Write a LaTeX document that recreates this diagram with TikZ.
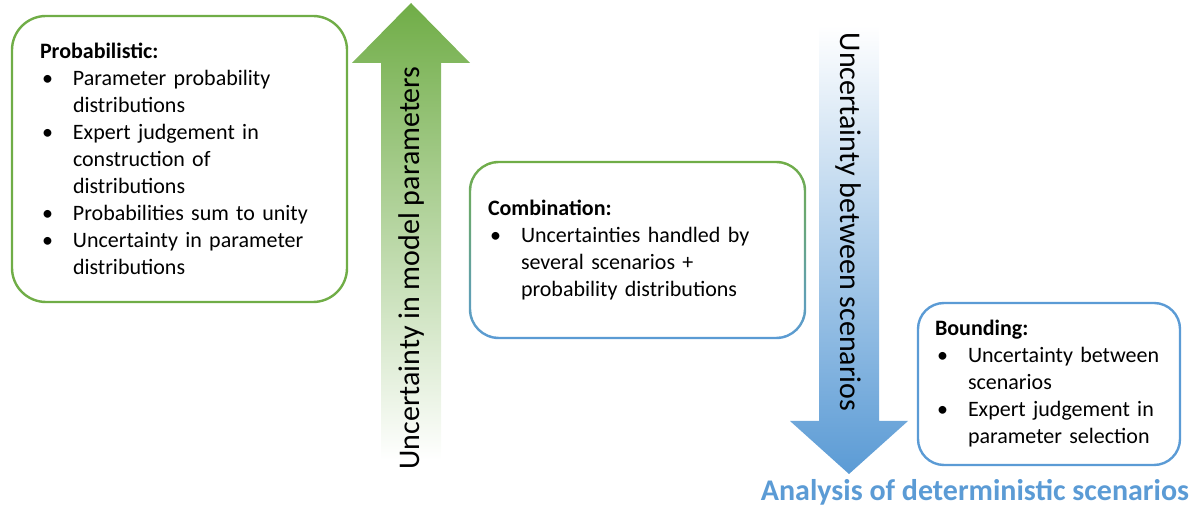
\documentclass[tikz,border=0pt]{standalone}
\usepackage{fontspec}
\setmainfont{Carlito}
\usetikzlibrary{positioning}

\definecolor{leafgreen}{RGB}{112,173,71}
\definecolor{skyblue}{RGB}{91,155,213}

% texte des boites, sans coupure de mots
\newcommand{\boxfont}{\fontsize{11}{13.5}\selectfont\hyphenpenalty=10000 \exhyphenpenalty=10000 }
% bullet item with hanging indent
\newcommand{\bul}{\par\noindent\hangindent=16.5pt \hangafter=1 \makebox[16.5pt][l]{\hspace{1pt}\textbullet}}

\begin{document}
\begin{tikzpicture}[
    x=0.5pt, y=-0.5pt,
    infobox/.style={rectangle, line width=1.2pt, align=left, font=\boxfont},
    greenbox/.style={infobox, draw=leafgreen, rounded corners=17pt},
    bluebox/.style={infobox, draw=skyblue, rounded corners=13pt},
    arrowlabel/.style={font=\fontsize{15}{18}\selectfont}
]
\useasboundingbox (0,0) rectangle (1193,506);

% Fleches
\shade[top color=leafgreen, bottom color=white] (381,460) -- (381,63) -- (352,63) -- (411,3) -- (470,63) -- (441,63) -- (441,460) -- cycle;
\shade[top color=white, bottom color=skyblue] (819,25) -- (819,421) -- (790,421) -- (849,474) -- (908,421) -- (879,421) -- (879,25) -- cycle;

\node[arrowlabel, rotate=90] (paramlabel) at (411,268) {Uncertainty in model parameters};
\node[arrowlabel, rotate=-90] (scenlabel) at (848,222) {Uncertainty between scenarios};

% Boites
\node[greenbox, text width=139.5pt, inner xsep=14pt, minimum height=143pt] (probbox) at (179.5,159) {%
{\bfseries Probabilistic:}%
\bul Parameter probability\break distributions%
\bul Expert judgement in\break construction of\break distributions%
\bul Probabilities sum to unity%
\bul Uncertainty in parameter\break distributions\par};

\node[infobox, text width=149.5pt, inner xsep=9pt, minimum height=88pt] (combobox) at (637.5,250) {%
{\bfseries Combination:}%
\bul Uncertainties handled by\break several scenarios +\break probability distributions\par};
\shade[top color=leafgreen, bottom color=skyblue, even odd rule]
    [rounded corners=15pt] (combobox.south west) rectangle (combobox.north east)
    [rounded corners=13.8pt] ([shift={(1.2pt,1.2pt)}]combobox.south west) rectangle ([shift={(-1.2pt,-1.2pt)}]combobox.north east);

\node[bluebox, text width=114pt, inner xsep=8.5pt, minimum height=81pt] (boundbox) at (1049,384) {%
{\bfseries Bounding:}%
\bul Uncertainty between\break scenarios%
\bul Expert judgement in\break parameter selection\par};

% Titre en bas
\node[font=\bfseries\fontsize{15}{18}\selectfont, text=skyblue] (detlabel) at (975,492) {Analysis of deterministic scenarios};

\end{tikzpicture}
\end{document}
